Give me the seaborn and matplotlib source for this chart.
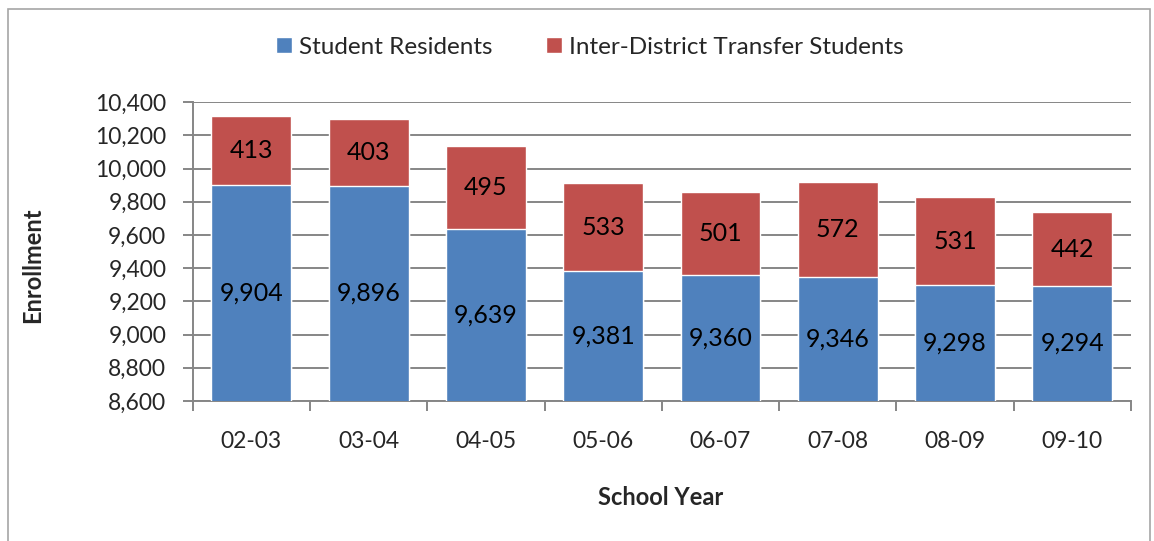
import pandas as pd
import matplotlib.pyplot as plt
import seaborn as sns
from matplotlib.patches import Rectangle
from matplotlib.ticker import FuncFormatter, MultipleLocator

# data
years = ['02-03', '03-04', '04-05', '05-06', '06-07', '07-08', '08-09', '09-10']
residents = [9904, 9896, 9639, 9381, 9360, 9346, 9298, 9294]
transfers = [413, 403, 495, 533, 501, 572, 531, 442]

df = pd.DataFrame({'year': years, 'residents': residents, 'transfers': transfers})
df['total'] = df['residents'] + df['transfers']

blue = '#4F81BD'
red = '#C0504D'
grid = '#868686'

sns.set_style("white")
plt.rcParams['font.family'] = ['Lato', 'DejaVu Sans']

W, H = 1154, 541
fig = plt.figure(figsize=(W / 100, H / 100), dpi=100)
ax = fig.add_axes([0.167, 0.259, 0.813, 0.552])

# stacked bars: total first (red), residents on top (blue)
sns.barplot(data=df, x='year', y='total', color=red, width=0.68, saturation=1,
            ax=ax, label='Inter-District Transfer Students', zorder=2)
sns.barplot(data=df, x='year', y='residents', color=blue, width=0.68, saturation=1,
            ax=ax, label='Student Residents', zorder=3)

ymin, ymax = 8600, 10400
ax.set_ylim(ymin, ymax)
ax.set_xlim(-0.5, len(years) - 0.5)
ax.yaxis.set_major_locator(MultipleLocator(200))
ax.yaxis.set_major_formatter(FuncFormatter(lambda v, p: f'{int(v):,}'))
ax.grid(axis='y', color=grid, linewidth=1.4, zorder=0)
ax.set_axisbelow(True)

# value labels
for i, row in df.iterrows():
    ax.text(i, (ymin + row['residents']) / 2, f"{row['residents']:,}",
            ha='center', va='center', fontsize=18, color='black', zorder=5)
    ax.text(i, row['residents'] + row['transfers'] / 2, f"{row['transfers']:,}",
            ha='center', va='center', fontsize=18, color='black', zorder=5)

# spines and ticks
for s in ['top', 'right']:
    ax.spines[s].set_visible(False)
for s in ['left', 'bottom']:
    ax.spines[s].set_color(grid)
    ax.spines[s].set_linewidth(1.4)
ax.tick_params(axis='y', which='major', length=7, width=1.4, color=grid,
               direction='out', left=True, labelsize=16.5, pad=12)
ax.set_xticks(range(len(years)))
ax.set_xticklabels(years)
ax.tick_params(axis='x', which='major', length=0, labelsize=16.5, pad=22)
ax.set_xticks([i - 0.5 for i in range(len(years) + 1)], minor=True)
ax.tick_params(axis='x', which='minor', length=7, width=1.4, color=grid,
               direction='out', bottom=True)

ax.set_xlabel('School Year', fontsize=17, fontweight='bold')
ax.set_ylabel('Enrollment', fontsize=17, fontweight='bold')
ax.xaxis.set_label_coords(661 / W, 1 - 486 / H, transform=fig.transFigure)
ax.yaxis.set_label_coords(44 / W, 1 - 265 / H, transform=fig.transFigure)

# legend
handles, labels = ax.get_legend_handles_labels()
order = [labels.index('Student Residents'), labels.index('Inter-District Transfer Students')]
ax.legend([handles[k] for k in order], [labels[k] for k in order],
          loc='center', bbox_to_anchor=(590 / W, 1 - 47 / H), bbox_transform=fig.transFigure,
          ncol=2, frameon=False, fontsize=17.5, handlelength=0.65, handleheight=0.65,
          handletextpad=0.3, columnspacing=2.2)

# outer frame
fig.patches.append(Rectangle((8 / W, -0.02), 1142 / W, 1 - 9 / H + 0.02,
                             transform=fig.transFigure, fill=False,
                             edgecolor='#A6A6A6', linewidth=1.2))

fig.savefig('out.png', dpi=100)
